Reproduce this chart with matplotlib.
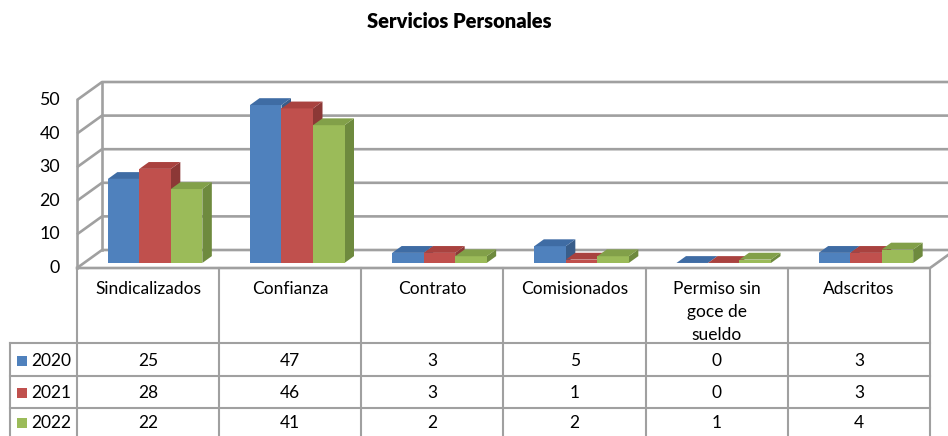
import matplotlib
matplotlib.use("Agg")
import matplotlib.pyplot as plt
from matplotlib.patches import Polygon, Rectangle
from matplotlib.transforms import Affine2D, blended_transform_factory

# ---------------- data ----------------
categories = ["Sindicalizados", "Confianza", "Contrato", "Comisionados",
              "Permiso sin\ngoce de\nsueldo", "Adscritos"]
series_names = ["2020", "2021", "2022"]
v2020 = [25, 47, 3, 5, 0, 3]
v2021 = [28, 46, 3, 1, 0, 3]
v2022 = [22, 41, 2, 2, 1, 4]
yticks = [0, 10, 20, 30, 40, 50]
title = "Servicios Personales"

series = [v2020, v2021, v2022]
front_cols = ["#4F81BD", "#C0504D", "#9BBB59"]
top_cols = ["#3F6CA4", "#A9423F", "#82A049"]
side_cols = ["#385D8A", "#8C3836", "#6E8A3E"]

FONT = "Lato"
plt.rcParams['font.family'] = [FONT, 'DejaVu Sans']

W, H = 948, 436
fig = plt.figure(figsize=(W / 100, H / 100), dpi=100)

# pixel transform (image coords, y down)
T_px = Affine2D().scale(1 / W, -1 / H).translate(0, 1) + fig.transFigure

# front plane of the 3D box
fx0, fx1 = 77, 930
fy0, fy50 = 268, 100
ax = fig.add_axes([fx0 / W, 1 - fy0 / H, (fx1 - fx0) / W, (fy0 - fy50) / H])
ax.set_xlim(-0.5, 5.5)
ax.set_ylim(0, 50)
ax.axis('off')

ncat = len(categories)
ppx = (fx1 - fx0) / ncat
ppy = (fy0 - fy50) / 50.0
DEPTH_X, DEPTH_Y = 25.0, 18.0


def off(f):
    return DEPTH_X * f / ppx, DEPTH_Y * f / ppy


gcol = "#A0A0A0"
glw = 1.9
dxb, dyb = off(1.0)
# back wall gridlines and left wall
for v in yticks:
    ax.plot([-0.5, -0.5 + dxb, ncat - 0.5 + dxb + 1], [v, v + dyb, v + dyb],
            color=gcol, lw=glw, clip_on=False, zorder=1, solid_capstyle='butt')
ax.plot([-0.5 + dxb, -0.5 + dxb], [dyb, 50 + dyb], color=gcol, lw=glw, clip_on=False, zorder=1)
ax.plot([-0.5, -0.5], [0, 50], color=gcol, lw=glw, clip_on=False, zorder=1)
# floor front edge and right edge
ax.plot([-0.5, ncat - 0.5, ncat - 0.5 + dxb], [0, 0, dyb], color=gcol, lw=glw,
        clip_on=False, zorder=1)

# bars
bw = 31.5 / ppx
dx1, dy1 = off(0.28)
dx2, dy2 = off(0.66)
for i in range(ncat):
    for k, vals in enumerate(series):
        v = vals[i]
        xl = i - 1.5 * bw + k * bw + dx1
        z = 3 + i * 3 + k * 0.1
        side = Polygon([(xl + bw, dy1), (xl + bw + dx2 - dx1, dy2),
                        (xl + bw + dx2 - dx1, v + dy2), (xl + bw, v + dy1)],
                       closed=True, facecolor=side_cols[k], edgecolor='none',
                       zorder=z, clip_on=False)
        ax.add_patch(side)
        ax.bar(xl, v, bw, bottom=dy1, align='edge', color=front_cols[k],
               edgecolor='none', zorder=z + 0.01, clip_on=False)
        top = Polygon([(xl, v + dy1), (xl + bw, v + dy1),
                       (xl + bw + dx2 - dx1, v + dy2), (xl + dx2 - dx1, v + dy2)],
                      closed=True, facecolor=top_cols[k], edgecolor='none',
                      zorder=z + 0.02, clip_on=False)
        ax.add_patch(top)

# y tick labels
for v in yticks:
    ax.text(-0.5 - 17 / ppx, v, str(v), ha='right', va='center',
            fontsize=12.8, color='black', clip_on=False)

# title
fig.text(459 / W, 1 - 22 / H, title, ha='center', va='center',
         fontsize=14.5, fontweight='heavy')

# ---------------- data table ----------------
tcol = "#A0A0A0"
tlw = 1.5
bt = blended_transform_factory(ax.transData, T_px)
row_tops = [268, 343, 376, 408]
row_bottom = 445
# vertical lines of category columns
for j in range(ncat + 1):
    ax.plot([j - 0.5, j - 0.5], [268, row_bottom], color=tcol, lw=tlw,
            transform=bt, clip_on=False, zorder=1)
# legend column left border
ax.plot([10, 10], [343, row_bottom], color=tcol, lw=tlw, transform=T_px,
        clip_on=False, zorder=1)
for y in row_tops[1:]:
    ax.plot([10, fx1], [y, y], color=tcol, lw=tlw, transform=T_px,
            clip_on=False, zorder=1)

fs = 12.5
# header texts
for i, name in enumerate(categories):
    for j, line in enumerate(name.split("\n")):
        ax.text(i, 294 + 23 * j, line, ha='center', va='baseline', fontsize=fs,
                transform=bt, clip_on=False)
# rows
baselines = [366, 398, 428]
for k, vals in enumerate(series):
    yb = baselines[k]
    ax.add_patch(Rectangle((17, yb - 10), 10, 10, facecolor=front_cols[k],
                           edgecolor='none', transform=T_px, clip_on=False))
    ax.text(31, yb, series_names[k], ha='left', va='baseline', fontsize=fs,
            transform=T_px, clip_on=False)
    for i, v in enumerate(vals):
        ax.text(i, yb, str(v), ha='center', va='baseline', fontsize=fs,
                transform=bt, clip_on=False)

fig.savefig("out.png", dpi=100)
